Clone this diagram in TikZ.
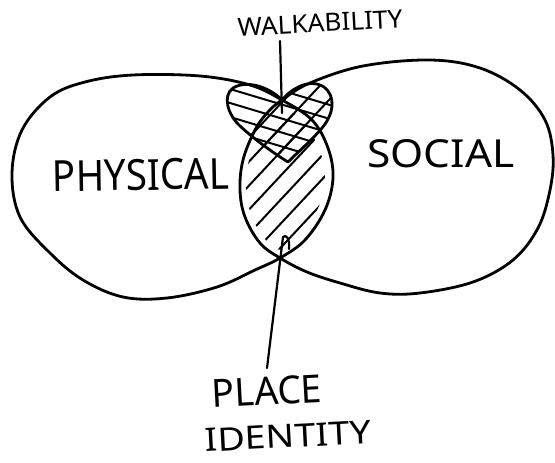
\documentclass[tikz,border=0pt]{standalone}
\usepackage{fontspec}
\setmainfont{Noto Sans}
\usepackage{graphicx}
\begin{document}
\begin{tikzpicture}[x=1pt,y=-1pt,
  outline/.style={line width=2.8pt, line cap=round, line join=round},
  hatch/.style={line width=2pt, line cap=round},
  pointer/.style={line width=2.2pt, line cap=round, line join=round},
  hand/.style={inner sep=0pt, text=black}]
\useasboundingbox[fill=white] (0,0) rectangle (555,463);

% the two overlapping regions
\def\leftblob{plot[smooth cycle, tension=0.6] coordinates {
  (282,100) (250,85) (200,76) (133,75) (85,82) (50,97) (22,130) (12,173)
  (20,217) (50,253) (83,280) (123,297) (167,298) (217,287) (255,270)
  (280,258) (305,240) (325,210) (333,178) (328,148) (312,120)}}
\def\rightblob{plot[smooth cycle, tension=0.6] coordinates {
  (282,100) (310,83) (363,66) (430,60) (480,68) (520,90) (545,120)
  (553,155) (550,190) (538,228) (513,260) (473,282) (420,293) (380,293)
  (340,283) (307,272) (280,258) (260,243) (245,217) (240,190) (243,160)
  (255,130) (268,112)}}
% inner part of the overlap, used to keep the hatching off the outline
\def\lensinner{plot[smooth cycle, tension=0.6] coordinates {
  (282,108) (302,122) (318,146) (325,176) (319,206) (302,233) (282,250)
  (264,238) (251,214) (246,188) (249,160) (260,132)}}
% heart in the upper part of the overlap
\def\heart{(282,100) .. controls (268,86) and (246,80) .. (233,88)
  .. controls (222,96) and (228,115) .. (240,126)
  .. controls (255,140) and (275,154) .. (288,162)
  .. controls (298,152) and (312,140) .. (322,128)
  .. controls (334,114) and (336,96) .. (324,87)
  .. controls (310,78) and (292,88) .. (282,100) -- cycle}

% diagonal hatching of the overlap
\begin{scope}
  \clip \lensinner;
  \foreach \c in {404,428,...,548}
    \draw[hatch] (200,{\c-214}) -- (360,{\c-385.2});
\end{scope}
% cross-hatching of the heart
\begin{scope}
  \clip \heart;
  \foreach \c in {404,428,...,548}
    \draw[hatch] (200,{\c-214}) -- (360,{\c-385.2});
  \foreach \d in {6,20,34,48,62}
    \draw[hatch] (200,{60+\d}) -- (360,{108+\d});
\end{scope}

\draw[outline] \leftblob;
\draw[outline] \rightblob;
\draw[outline] \heart;

% labels
\node[hand, rotate=3] (walk) at (320,23) {\resizebox{165pt}{18pt}{WALKABILITY}};
\node[hand, rotate=1] (physical) at (141,175) {\resizebox{177pt}{31pt}{PHYSICAL}};
\node[hand] (social) at (441,154) {\resizebox{147pt}{28pt}{SOCIAL}};
\node[hand, rotate=3] (place) at (267,391) {\resizebox{110pt}{28pt}{PLACE}};
\node[hand, rotate=3] (identity) at (288,436) {\resizebox{166pt}{23pt}{IDENTITY}};

% pointers
\coordinate (walkfoot) at (280,41);
\coordinate (walktip) at (282,113);
\coordinate (placefoot) at (267,368);
\coordinate (placetip) at (283,237);
\draw[pointer] (walkfoot) -- (walktip);
\draw[pointer] (placefoot) -- (placetip)
  .. controls (286,234) and (290,238) .. (289,249);
\end{tikzpicture}
\end{document}
